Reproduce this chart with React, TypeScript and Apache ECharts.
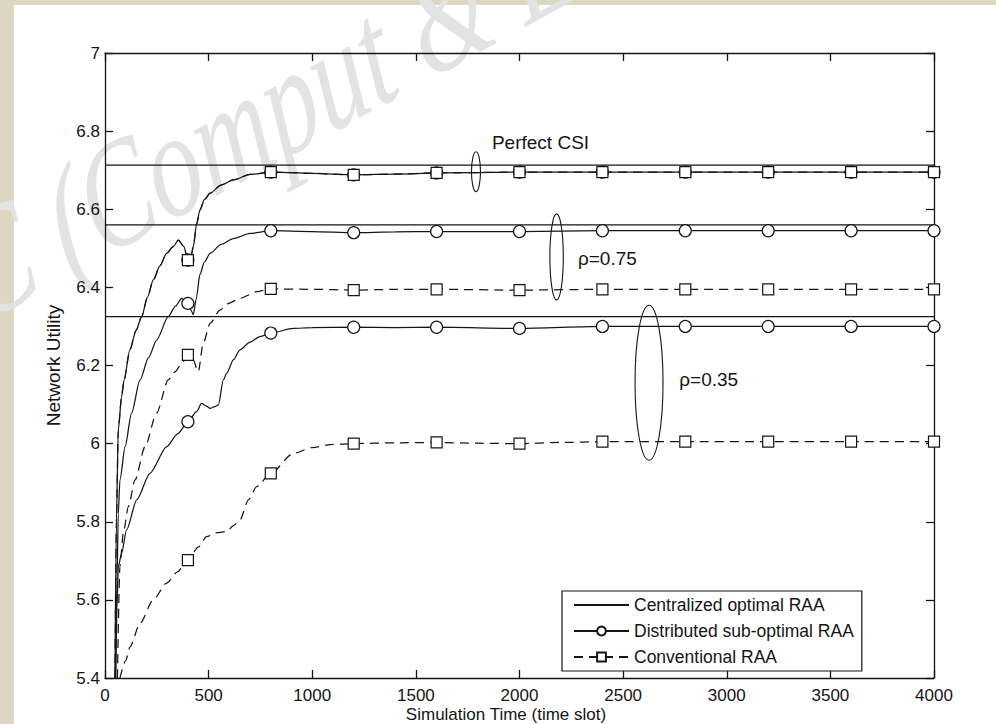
import React, { useEffect, useRef } from "react";
import * as echarts from "echarts";

// ---------- data ----------
const legendNames = ["Centralized optimal RAA", "Distributed sub-optimal RAA", "Conventional RAA"];

// centralized optimal RAA levels (perfect CSI, rho=0.75, rho=0.35)
const centralizedLevels = [6.713, 6.56, 6.325];

// x positions where markers are shown
const markerX = [400, 800, 1200, 1600, 2000, 2400, 2800, 3200, 3600, 4000];

// Perfect CSI (distributed and conventional coincide)
const perfectX = [48, 55, 64, 80, 92, 120, 150, 177, 205, 233, 265, 297, 330, 354, 380, 400, 415, 426, 442, 458, 480, 507, 560, 619, 700, 800, 1000, 1200, 1400, 1600, 2000, 2400, 2800, 3200, 3600, 4000];
const perfectY = [5.4, 5.8, 6.035, 6.12, 6.163, 6.24, 6.29, 6.325, 6.375, 6.419, 6.455, 6.487, 6.505, 6.521, 6.505, 6.47, 6.48, 6.504, 6.562, 6.598, 6.625, 6.641, 6.662, 6.675, 6.689, 6.695, 6.692, 6.688, 6.69, 6.693, 6.695, 6.695, 6.695, 6.695, 6.695, 6.695];

// rho = 0.75, distributed
const dist075X = [50, 58, 64, 72, 97, 128, 169, 210, 249, 305, 340, 370, 400, 415, 426, 440, 458, 480, 507, 560, 619, 700, 800, 1000, 1200, 1400, 1600, 2000, 2400, 2800, 3200, 3600, 4000];
const dist075Y = [5.4, 5.65, 5.82, 5.907, 5.992, 6.078, 6.163, 6.22, 6.265, 6.325, 6.352, 6.372, 6.359, 6.342, 6.33, 6.37, 6.433, 6.465, 6.487, 6.51, 6.525, 6.538, 6.545, 6.543, 6.54, 6.542, 6.543, 6.543, 6.545, 6.545, 6.545, 6.545, 6.545];

// rho = 0.75, conventional
const conv075X = [60, 72, 88, 113, 145, 193, 249, 305, 338, 370, 400, 425, 450, 474, 507, 555, 600, 651, 732, 800, 1000, 1200, 1400, 1600, 2000, 2400, 2800, 3200, 3600, 4000];
const conv075Y = [5.4, 5.685, 5.77, 5.839, 5.907, 5.992, 6.078, 6.163, 6.184, 6.205, 6.227, 6.215, 6.184, 6.257, 6.308, 6.342, 6.36, 6.372, 6.389, 6.396, 6.395, 6.393, 6.395, 6.395, 6.393, 6.395, 6.395, 6.395, 6.395, 6.395];

// rho = 0.35, distributed
const dist035X = [52, 58, 64, 80, 104, 153, 217, 297, 350, 400, 442, 466, 490, 507, 530, 547, 571, 587, 620, 651, 700, 748, 800, 909, 1000, 1200, 1400, 1600, 2000, 2400, 2800, 3200, 3600, 4000];
const dist035Y = [5.4, 5.58, 5.685, 5.719, 5.779, 5.856, 5.924, 5.992, 6.025, 6.056, 6.082, 6.103, 6.096, 6.09, 6.095, 6.099, 6.163, 6.18, 6.215, 6.24, 6.26, 6.274, 6.283, 6.295, 6.297, 6.298, 6.297, 6.298, 6.295, 6.3, 6.3, 6.3, 6.3, 6.3];

// rho = 0.35, conventional
const conv035X = [72, 100, 121, 169, 233, 297, 350, 400, 450, 490, 540, 587, 620, 651, 692, 732, 800, 909, 1000, 1100, 1200, 1400, 1600, 1800, 2000, 2200, 2400, 2800, 3200, 3600, 4000];
const conv035Y = [5.4, 5.445, 5.48, 5.54, 5.6, 5.643, 5.672, 5.702, 5.735, 5.762, 5.772, 5.775, 5.79, 5.804, 5.856, 5.89, 5.924, 5.975, 5.99, 5.998, 6.0, 6.002, 6.003, 6.001, 6.0, 6.003, 6.005, 6.005, 6.005, 6.005, 6.005];

// annotations (data coordinates)
const annotTexts = [
  { text: "Perfect CSI", x: 1867, y: 6.771 },
  { text: "\u03c1=0.75", x: 2282, y: 6.473 },
  { text: "\u03c1=0.35", x: 2771, y: 6.163 },
];
const annotEllipses = [
  { x: 1790, y: 6.696 },
  { x: 2179, y: 6.478 },
  { x: 2625, y: 6.156 },
];

// ---------- styles ----------
const INK = "#151515";
const FONT = "'Liberation Sans', Arial, Helvetica, sans-serif";
const BEIGE = "#ddd6c1";
const ellipseRadii = [
  [4.5, 20],
  [6.7, 43],
  [14, 77.5],
];

function curveData(xs: number[], ys: number[]) {
  return xs.map((x, i) => {
    const item: any = { value: [x, ys[i]] };
    if (!markerX.includes(x)) item.symbol = "none";
    return item;
  });
}

export default function App() {
  const ref = useRef<HTMLDivElement>(null);

  useEffect(() => {
    const chart = echarts.init(ref.current!, undefined, { renderer: "svg" });

    const base: any = {
      type: "line",
      xAxisIndex: 0,
      yAxisIndex: 0,
      showSymbol: true,
      showAllSymbol: true,
      smooth: 0.25,
      smoothMonotone: "x",
      silent: true,
      animation: false,
    };

    const centralSeries = centralizedLevels.map((v) => ({
      ...base,
      name: legendNames[0],
      data: [
        [0, v],
        [4000, v],
      ],
      symbol: "none",
      smooth: false,
      lineStyle: { color: INK, width: 1.4 },
    }));

    const distStyle = {
      symbol: "circle",
      symbolSize: 12,
      itemStyle: { color: "#fff", borderColor: INK, borderWidth: 1.2 },
      lineStyle: { color: INK, width: 1.25 },
    };
    const convStyle = {
      symbol: "rect",
      symbolSize: 11,
      itemStyle: { color: "#fff", borderColor: INK, borderWidth: 1.2 },
      lineStyle: { color: INK, width: 1.25, type: [9, 6] },
    };

    const distSeries = [
      [perfectX, perfectY],
      [dist075X, dist075Y],
      [dist035X, dist035Y],
    ].map(([xs, ys]) => ({ ...base, ...distStyle, name: legendNames[1], data: curveData(xs, ys) }));

    const convSeries = [
      [perfectX, perfectY],
      [conv075X, conv075Y],
      [conv035X, conv035Y],
    ].map(([xs, ys]) => ({ ...base, ...convStyle, name: legendNames[2], data: curveData(xs, ys) }));

    const axisCommon = {
      axisLine: { show: true, onZero: false, lineStyle: { color: INK, width: 1.3 } },
      axisTick: { show: true, inside: true, length: 8, lineStyle: { color: INK, width: 1.3 } },
      splitLine: { show: false },
    };

    const option: any = {
      animation: false,
      backgroundColor: "transparent",
      textStyle: { fontFamily: FONT },
      grid: { left: 105, top: 53, right: 62, bottom: 46, containLabel: false, outerBoundsMode: "none" },
      xAxis: [
        {
          type: "value",
          position: "bottom",
          min: 0,
          max: 4000,
          interval: 500,
          ...axisCommon,
          axisLabel: {
            color: INK,
            fontSize: 17,
            fontFamily: FONT,
            margin: 9,
            formatter: (v: number) => String(v),
          },
          name: "Simulation Time (time slot)",
          nameLocation: "middle",
          nameGap: 28,
          nameMoveOverlap: false,
          nameTextStyle: { color: INK, fontSize: 17, fontFamily: FONT, padding: [0, 27, 0, 0] },
        },
        {
          type: "value",
          position: "top",
          min: 0,
          max: 4000,
          interval: 500,
          ...axisCommon,
          axisLabel: { show: false },
        },
      ],
      yAxis: [
        {
          type: "value",
          position: "left",
          min: 5.4,
          max: 7,
          interval: 0.2,
          ...axisCommon,
          axisLabel: { color: INK, fontSize: 17, fontFamily: FONT, margin: 5 },
          name: "Network Utility",
          nameLocation: "middle",
          nameRotate: 90,
          nameGap: 42,
          nameTextStyle: { color: INK, fontSize: 19, fontFamily: FONT },
        },
        {
          type: "value",
          position: "right",
          min: 5.4,
          max: 7,
          interval: 0.2,
          ...axisCommon,
          axisLabel: { show: false },
        },
      ],
      legend: {
        orient: "vertical",
        left: 562,
        top: 591,
        padding: [5, 8, 5, 11],
        itemWidth: 55,
        itemHeight: 11,
        itemGap: 8,
        backgroundColor: "#fff",
        borderColor: INK,
        borderWidth: 1.2,
        borderRadius: 0,
        selectedMode: false,
        textStyle: { color: INK, fontSize: 17.5, fontFamily: FONT },
        data: [
          { name: legendNames[0], itemStyle: { opacity: 0 } },
          { name: legendNames[1] },
          { name: legendNames[2] },
        ],
      },
      series: [...centralSeries, ...distSeries, ...convSeries],
    };

    chart.setOption(option);

    const stretch = 1.2;
    const graphics: any[] = [
      {
        type: "group",
        x: 0,
        y: 0,
        scaleY: stretch,
        z: -5,
        silent: true,
        children: [
          {
            type: "text",
            x: 265,
            y: 112 / stretch,
            rotation: (24.5 * Math.PI) / 180,
            scaleX: 0.82,
            z: -5,
            silent: true,
            style: {
              text: "C (Comput & E",
              font: 'italic 128px "Liberation Serif", "Times New Roman", serif',
              fill: "#e3e3e3",
              align: "center",
              verticalAlign: "middle",
            },
          },
        ],
      },
    ];

    annotEllipses.forEach((e, i) => {
      const [px, py] = chart.convertToPixel({ xAxisIndex: 0, yAxisIndex: 0 }, [e.x, e.y]) as number[];
      graphics.push({
        type: "ellipse",
        z: 10,
        silent: true,
        shape: { cx: px, cy: py, rx: ellipseRadii[i][0], ry: ellipseRadii[i][1] },
        style: { fill: "none", stroke: INK, lineWidth: 1.1 },
      });
    });
    annotTexts.forEach((t) => {
      const [px, py] = chart.convertToPixel({ xAxisIndex: 0, yAxisIndex: 0 }, [t.x, t.y]) as number[];
      graphics.push({
        type: "text",
        x: px,
        y: py,
        z: 10,
        silent: true,
        style: {
          text: t.text,
          font: `19px ${FONT}`,
          fill: INK,
          align: "left",
          verticalAlign: "middle",
        },
      });
    });

    chart.setOption({ graphic: graphics });

    return () => chart.dispose();
  }, []);

  return (
    <div
      style={{
        position: "fixed",
        left: 0,
        top: 0,
        width: 996,
        height: 724,
        background: BEIGE,
        overflow: "hidden",
      }}
    >
      <div style={{ position: "absolute", left: 14, top: 5, right: 0, bottom: 0, background: "#fff" }} />
      <div ref={ref} style={{ position: "absolute", left: 0, top: 0, width: 996, height: 724 }} />
    </div>
  );
}
